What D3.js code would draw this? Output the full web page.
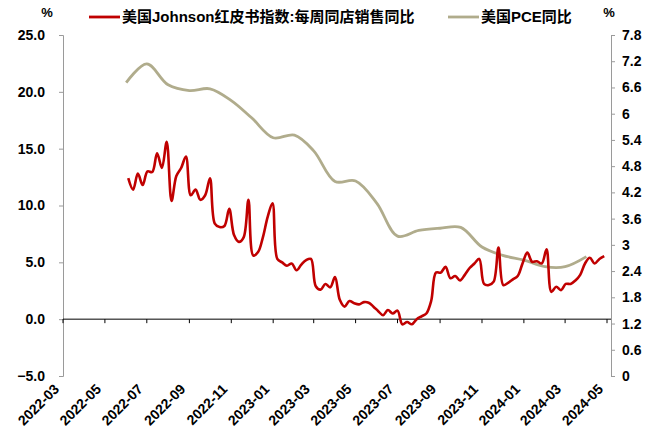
<!DOCTYPE html>
<html>
<head>
<meta charset="UTF-8">
<style>
  body { margin: 0; background: #fff; }
  svg { display: block; }
  text { font-family: "Liberation Sans", "Noto Sans CJK SC", sans-serif; font-weight: bold; fill: #000; }
</style>
</head>
<body>
<svg></svg>
<script src="https://d3js.org/d3.v7.min.js"></script>
<script>
// x axis tick labels (every 2 months)
const xTickLabels = ["2022-03", "2022-05", "2022-07", "2022-09", "2022-11", "2023-01", "2023-03",
  "2023-05", "2023-07", "2023-09", "2023-11", "2024-01", "2024-03", "2024-05"];

// Johnson Redbook, weekly (Saturdays), YoY %
const redbookStart = "2022-06-04";
const redbookValues = [
  12.4, 11.4, 12.8, 11.8, 13.0, 12.95, 14.6, 13.3, 15.6, 10.4,
  12.6, 13.3, 14.3, 10.9, 11.4, 10.5, 10.9, 12.4, 8.4, 8.1,
  8.2, 9.7, 7.4, 6.8, 7.2, 10.5, 5.6, 5.9, 7.2, 9.0,
  10.2, 5.3, 5.0, 4.7, 4.9, 4.3, 4.8, 5.2, 5.3, 2.9,
  2.6, 3.1, 2.8, 3.7, 1.7, 1.1, 1.6, 1.4, 1.3, 1.5,
  1.45, 1.1, 0.7, 0.35, 0.8, 0.5, 0.75, -0.45, -0.25, -0.45,
  0.0, 0.25, 0.5, 1.6, 4.1, 4.1, 4.6, 3.6, 3.8, 3.4,
  3.9, 4.5, 4.9, 5.3, 3.1, 3.0, 3.3, 6.3, 3.0, 3.2,
  3.5, 3.8, 4.9, 5.85, 5.05, 5.1, 4.9, 6.15, 2.4, 2.85,
  2.55, 3.1, 3.1, 3.4, 3.9, 4.9, 5.4, 4.9, 5.3, 5.55
];

// US PCE YoY %, monthly
const pceMonths = ["2022-06", "2022-07", "2022-08", "2022-09", "2022-10", "2022-11", "2022-12",
  "2023-01", "2023-02", "2023-03", "2023-04", "2023-05", "2023-06", "2023-07", "2023-08",
  "2023-09", "2023-10", "2023-11", "2023-12", "2024-01", "2024-02", "2024-03", "2024-04"];
const pceValues = [6.71, 7.14, 6.66, 6.53, 6.57, 6.30, 5.90, 5.45, 5.51, 5.15, 4.45, 4.46,
  3.95, 3.20, 3.33, 3.38, 3.40, 2.95, 2.76, 2.65, 2.50, 2.50, 2.73];

const leftTicks = [-5, 0, 5, 10, 15, 20, 25];
const rightTicks = [0, 0.6, 1.2, 1.8, 2.4, 3, 3.6, 4.2, 4.8, 5.4, 6, 6.6, 7.2, 7.8];

const seriesNames = ["美国Johnson红皮书指数:每周同店销售同比", "美国PCE同比"];
const seriesColors = ["#C00000", "#B0AC8C"];

let width = 648, height = 443;
let svg = d3.select("svg").attr("width", width).attr("height", height);

let parseMonth = d3.timeParse("%Y-%m");
let parseDay = d3.timeParse("%Y-%m-%d");

let x = d3.scaleTime()
  .domain([parseMonth(xTickLabels[0]), parseMonth(xTickLabels[xTickLabels.length - 1])])
  .range([63, 607]);
let yL = d3.scaleLinear().domain([-5, 25]).range([376, 35]);
let yR = d3.scaleLinear().domain([0, 7.8]).range([376, 35]);

// left axis
let gl = svg.append("g").attr("transform", "translate(63,0)")
  .call(d3.axisLeft(yL).tickValues(leftTicks).tickFormat(d3.format(".1f")).tickSize(4).tickPadding(14));
// right axis
let gr = svg.append("g").attr("transform", "translate(611,0)")
  .call(d3.axisRight(yR).tickValues(rightTicks).tickFormat(d => String(+d.toFixed(1))).tickSize(4).tickPadding(7));
[gl, gr].forEach(g => {
  g.selectAll("path, line").attr("stroke", "#9a9a9a");
  g.selectAll("text").attr("font-size", 14).attr("font-family", null).attr("fill", "#000");
});

// zero line with month ticks
let y0 = yL(0);
svg.append("line").attr("x1", 63).attr("x2", 611).attr("y1", y0).attr("y2", y0)
  .attr("stroke", "#000").attr("stroke-width", 1);
let xTicks = xTickLabels.map(parseMonth);
svg.append("g").selectAll("line").data(xTicks).enter().append("line")
  .attr("x1", d => x(d)).attr("x2", d => x(d))
  .attr("y1", y0).attr("y2", y0 + 4)
  .attr("stroke", "#000");

// x labels, rotated, below plot
svg.append("g").selectAll("text").data(xTicks).enter().append("text")
  .attr("transform", d => "translate(" + (x(d) - 3) + ",390) rotate(-45)")
  .attr("text-anchor", "end")
  .attr("font-size", 14)
  .attr("font-weight", "normal")
  .text(d => d3.timeFormat("%Y-%m")(d));

// series data
let redbook = redbookValues.map((v, i) => ({ date: d3.timeDay.offset(parseDay(redbookStart), 7 * i), value: v }));
let pce = pceMonths.map((m, i) => ({ date: parseMonth(m), value: pceValues[i] }));

let linePce = d3.line().x(d => x(d.date)).y(d => yR(d.value)).curve(d3.curveCatmullRom.alpha(0.5));
let lineRed = d3.line().x(d => x(d.date)).y(d => yL(d.value)).curve(d3.curveCatmullRom.alpha(0.5));

svg.append("path").datum(pce).attr("d", linePce)
  .attr("fill", "none").attr("stroke", seriesColors[1]).attr("stroke-width", 2.8);
svg.append("path").datum(redbook).attr("d", lineRed)
  .attr("fill", "none").attr("stroke", seriesColors[0]).attr("stroke-width", 2.6);

// unit labels
svg.append("text").attr("x", 47).attr("y", 17).attr("text-anchor", "middle").attr("font-size", 13).text("%");
svg.append("text").attr("x", 609).attr("y", 17).attr("text-anchor", "middle").attr("font-size", 13).text("%");

// legend
let legendPos = [89, 448];
seriesNames.forEach((name, i) => {
  svg.append("line").attr("x1", legendPos[i]).attr("x2", legendPos[i] + 31)
    .attr("y1", 17).attr("y2", 17)
    .attr("stroke", seriesColors[i]).attr("stroke-width", 2.8);
  svg.append("text").attr("x", legendPos[i] + 33).attr("y", 22).attr("font-size", 15).text(name);
});
</script>
</body>
</html>
